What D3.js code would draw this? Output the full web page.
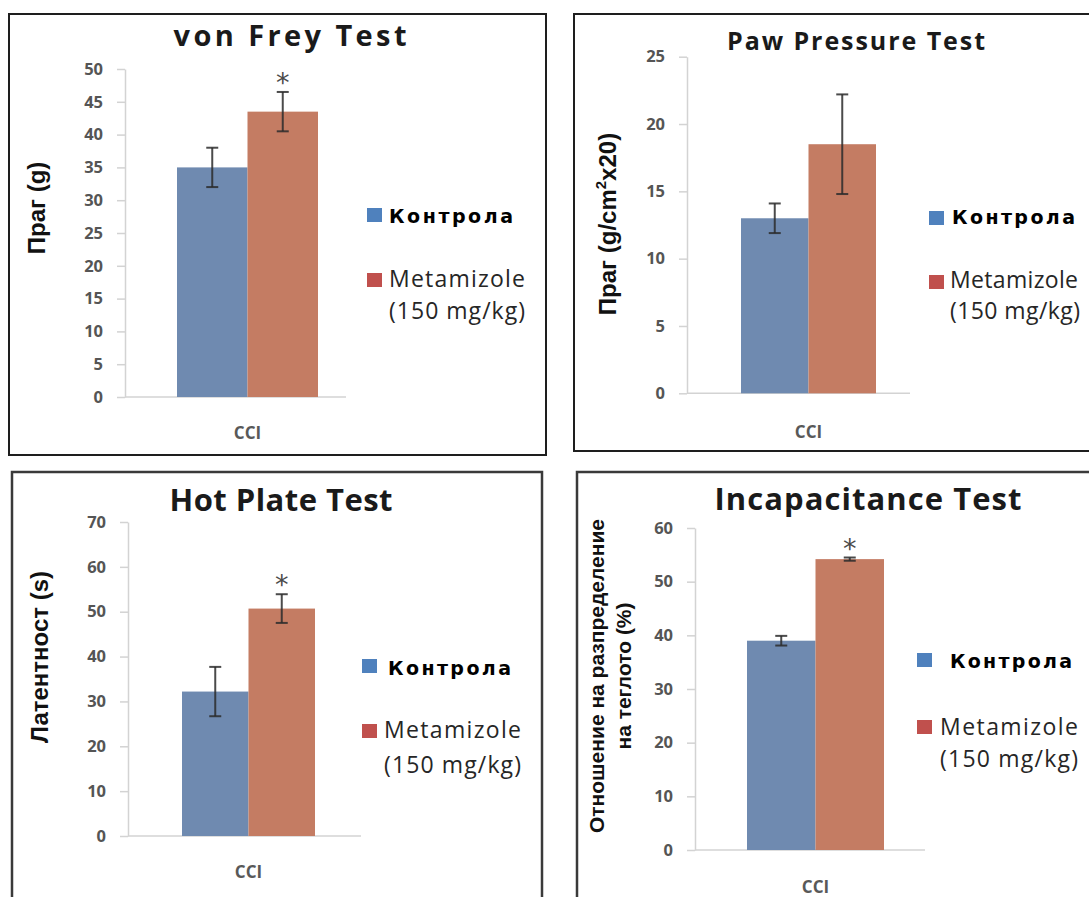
<!DOCTYPE html>
<html>
<head>
<meta charset="utf-8">
<script src="https://cdn.jsdelivr.net/npm/d3@7"></script>
<style>
  body { margin: 0; background: #fff; }
  svg { display: block; }
</style>
</head>
<body>
<svg id="chart" width="1089" height="897"></svg>
<script>
// ---- data ----
const tests = ["von Frey Test", "Paw Pressure Test", "Hot Plate Test", "Incapacitance Test"];
const categories = ["CCI"];
const seriesNames = ["Контрола", "Metamizole"];
const seriesDose = ["", "(150 mg/kg)"];
const controlMeans = [35, 13, 32.2, 39];
const controlErrors = [3, 1.1, 5.5, 0.9];
const metamizoleMeans = [43.5, 18.5, 50.7, 54.2];
const metamizoleErrors = [3, 3.7, 3.2, 0.3];
const yMaxima = [50, 25, 70, 60];
const yTickSteps = [5, 5, 10, 10];
const significant = [true, false, true, true];
// "^2" marks a superscript two
const yTitles = [
  ["Праг (g)"],
  ["Праг (g/cm^2x20)"],
  ["Латентност (s)"],
  ["Отношение на разпределение", "на теглото  (%)"]
];

// ---- panel geometry ----
const panels = [
  { box: [9, 14, 546, 455], axisX: 125, axisEnd: 346, yTop: 69, yZero: 397, bars: [177, 318],
    title: [290, 46, 233, 29], yLab: [[45, 208]], yLabSize: 24, cciY: 439,
    sq: [367, 208, 273], txt: [389, 389], base: [223, 287, 319], w: [124, 136, 136] },
  { box: [574, 14, 1094, 451], axisX: 687, axisEnd: 910, yTop: 56.7, yZero: 393.3, bars: [741, 876],
    title: [856, 50, 258, 25], yLab: [[616, 224]], yLabSize: 24, cciY: 438,
    sq: [929, 211, 275], txt: [952, 950], base: [224, 288, 319], w: [123, 128, 130] },
  { box: [12, 472, 542, 905], axisX: 128, axisEnd: 361, yTop: 522, yZero: 836, bars: [182, 315],
    title: [281, 511, 223, 31], yLab: [[48, 657]], yLabSize: 24, cciY: 878,
    sq: [362, 659, 724], txt: [388, 384], base: [675, 738, 773], w: [123, 137, 137] },
  { box: [577, 472, 1094, 905], axisX: 695, axisEnd: 925, yTop: 528, yZero: 850, bars: [747, 884],
    title: [868, 510, 307, 31], yLab: [[604, 676], [631, 676]], yLabSize: 21, cciY: 893,
    sq: [917, 653, 720], txt: [950, 940], base: [668, 735, 767], w: [122, 138, 138] }
];

const barColors = ["#6f8ab0", "#c47c63"];
const legendColors = ["#4f81bd", "#c0504d"];
const svg = d3.select("#chart");

svg.append("rect").attr("width", 1089).attr("height", 897).attr("fill", "#fff");

panels.forEach((p, i) => {
  const g = svg.append("g");
  const [x0, y0, x1, y1] = p.box;

  g.append("rect")
    .attr("x", x0).attr("y", y0)
    .attr("width", x1 - x0).attr("height", y1 - y0)
    .attr("fill", "#fff")
    .attr("stroke", i < 2 ? "#1e1e1e" : "#3a3a3a")
    .attr("stroke-width", i < 2 ? 2 : 2.5);

  // title
  g.append("text")
    .attr("x", p.title[0]).attr("y", p.title[1])
    .attr("text-anchor", "middle")
    .attr("font-family", "'Open Sans', sans-serif")
    .attr("font-weight", 700)
    .attr("font-size", p.title[3])
    .attr("fill", "#1a1a1a")
    .attr("textLength", p.title[2])
    .attr("lengthAdjust", "spacing")
    .text(tests[i]);

  // scales
  const y = d3.scaleLinear().domain([0, yMaxima[i]]).range([p.yZero, p.yTop]);
  const xCat = d3.scaleBand().domain(categories).range(p.bars).padding(0);
  const xSer = d3.scaleBand().domain(seriesNames).range([0, xCat.bandwidth()]).padding(0);

  // y axis
  const yAxis = d3.axisLeft(y)
    .tickValues(d3.range(0, yMaxima[i] + yTickSteps[i] / 2, yTickSteps[i]))
    .tickSize(8).tickSizeOuter(0).tickPadding(14);
  const ya = g.append("g").attr("transform", `translate(${p.axisX},0)`).call(yAxis);
  ya.select(".domain").attr("stroke", "#d3d3d3").attr("stroke-width", 1.5);
  ya.selectAll(".tick line").attr("stroke", "#d3d3d3").attr("stroke-width", 1.5);
  ya.selectAll(".tick text")
    .attr("font-family", "'Open Sans', sans-serif")
    .attr("font-weight", 700)
    .attr("font-size", 16.5)
    .attr("fill", "#555");

  // x axis line
  g.append("line")
    .attr("x1", p.axisX).attr("x2", p.axisEnd)
    .attr("y1", y(0)).attr("y2", y(0))
    .attr("stroke", "#d3d3d3").attr("stroke-width", 1.5);

  // bars
  const rows = categories.map(c => [
    { cat: c, s: seriesNames[0], v: controlMeans[i], e: controlErrors[i], k: 0 },
    { cat: c, s: seriesNames[1], v: metamizoleMeans[i], e: metamizoleErrors[i], k: 1 }
  ]).flat();

  g.selectAll("rect.bar").data(rows).join("rect")
    .attr("class", "bar")
    .attr("x", d => xCat(d.cat) + xSer(d.s))
    .attr("width", xSer.bandwidth())
    .attr("y", d => y(d.v))
    .attr("height", d => y(0) - y(d.v))
    .attr("fill", d => barColors[d.k]);

  // error bars
  const eb = g.selectAll("g.err").data(rows).join("g").attr("class", "err")
    .attr("stroke", "#2b2b2b").attr("stroke-width", 2).attr("stroke-opacity", 0.85);
  const cx = d => xCat(d.cat) + xSer(d.s) + xSer.bandwidth() / 2;
  eb.append("line")
    .attr("x1", cx).attr("x2", cx)
    .attr("y1", d => y(d.v + d.e)).attr("y2", d => y(d.v - d.e));
  [1, -1].forEach(sign => {
    eb.append("line")
      .attr("x1", d => cx(d) - 6).attr("x2", d => cx(d) + 6)
      .attr("y1", d => y(d.v + sign * d.e)).attr("y2", d => y(d.v + sign * d.e));
  });

  // significance marker
  if (significant[i]) {
    const d = rows[1];
    g.append("text")
      .attr("x", cx(d))
      .attr("y", y(d.v + d.e) - 17 + 17)
      .attr("text-anchor", "middle")
      .attr("font-family", "'DejaVu Sans', sans-serif")
      .attr("font-size", 27)
      .attr("fill", "#4a4a4a")
      .text("*");
  }

  // category label
  categories.forEach(c => {
    g.append("text")
      .attr("x", xCat(c) + xCat.bandwidth() / 2)
      .attr("y", p.cciY)
      .attr("text-anchor", "middle")
      .attr("font-family", "'Open Sans', sans-serif")
      .attr("font-weight", 700)
      .attr("font-size", 17)
      .attr("fill", "#595959")
      .text(c);
  });

  // y axis title
  yTitles[i].forEach((line, li) => {
    const [lx, ly] = p.yLab[li];
    const t = g.append("text")
      .attr("transform", `translate(${lx},${ly}) rotate(-90)`)
      .attr("text-anchor", "middle")
      .attr("font-family", "'Liberation Sans', Arial, sans-serif")
      .attr("font-weight", 700)
      .attr("font-size", p.yLabSize)
      .attr("fill", "#111");
    const parts = line.split("^2");
    t.append("tspan").text(parts[0]);
    if (parts.length > 1) {
      t.append("tspan").attr("font-size", 15).attr("dy", -10).text("2");
      t.append("tspan").attr("dy", 10).text(parts[1]);
    }
  });

  // legend
  [0, 1].forEach(k => {
    g.append("rect")
      .attr("x", p.sq[0]).attr("y", p.sq[1 + k])
      .attr("width", 15).attr("height", 14)
      .attr("fill", legendColors[k]);
  });
  g.append("text")
    .attr("x", p.txt[0]).attr("y", p.base[0])
    .attr("font-family", "'DejaVu Sans', sans-serif")
    .attr("font-weight", 700).attr("font-size", 19)
    .attr("fill", "#000")
    .attr("textLength", p.w[0]).attr("lengthAdjust", "spacing")
    .text(seriesNames[0]);
  g.append("text")
    .attr("x", p.txt[1]).attr("y", p.base[1])
    .attr("font-family", "'Open Sans', sans-serif")
    .attr("font-size", 23).attr("fill", "#262626")
    .attr("textLength", p.w[1]).attr("lengthAdjust", "spacing")
    .text(seriesNames[1]);
  g.append("text")
    .attr("x", p.txt[1]).attr("y", p.base[2])
    .attr("font-family", "'Open Sans', sans-serif")
    .attr("font-size", 23).attr("fill", "#262626")
    .attr("textLength", p.w[2]).attr("lengthAdjust", "spacing")
    .text(seriesDose[1]);
});
</script>
</body>
</html>
